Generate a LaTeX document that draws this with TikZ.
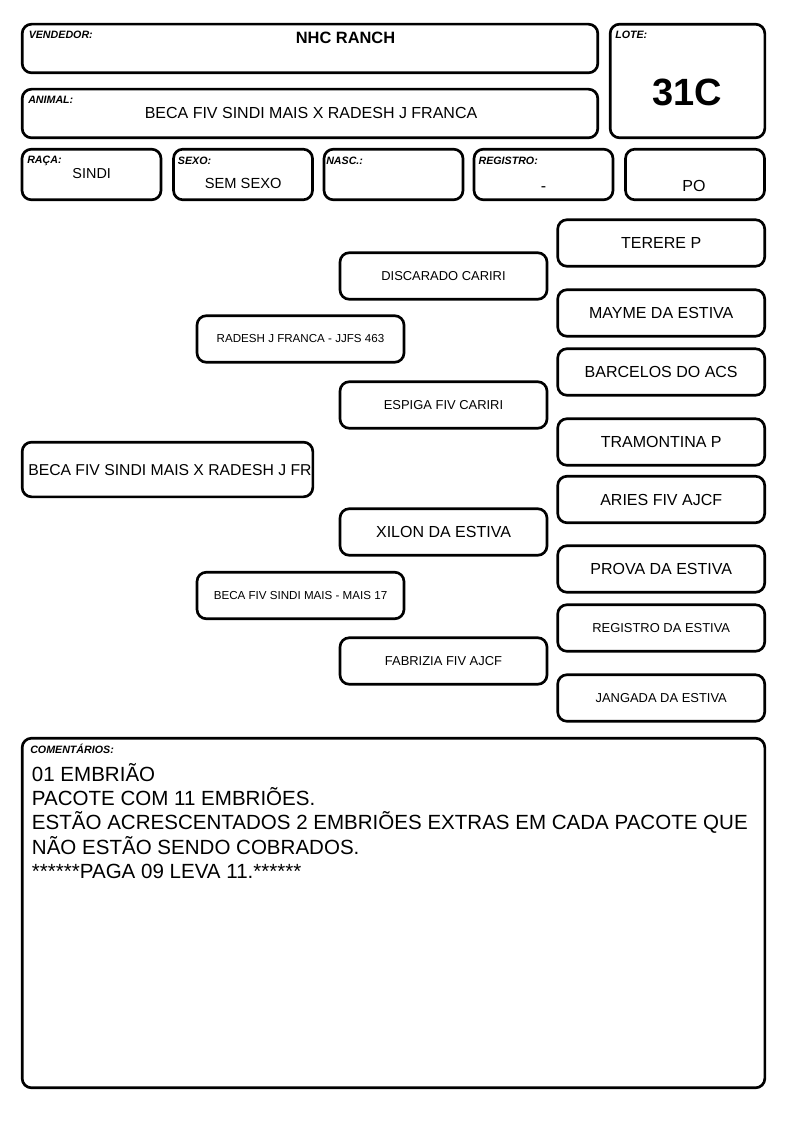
\documentclass[tikz,border=0pt]{standalone}
\usepackage{fontspec}
\setmainfont{Liberation Sans}
\begin{document}
\begin{tikzpicture}[x=0.75pt,y=-0.75pt,
  box/.style={draw=black, line width=2pt, rounded corners=7pt, inner sep=0pt, outer sep=0pt, align=center},
  ped/.style={box, minimum width=155.25pt, minimum height=34.9pt},
  rowbox/.style={box, minimum width=104.25pt, minimum height=37.95pt},
  lbl/.style={anchor=base west, inner sep=0pt, font=\fontsize{8}{9.5}\selectfont\bfseries\itshape},
  val/.style={anchor=base, inner sep=0pt, font=\fontsize{12}{14}\selectfont},
  fbig/.style={font=\fontsize{12}{14}\selectfont},
  fsmall/.style={font=\fontsize{9.7}{11}\selectfont},
  ftiny/.style={font=\fontsize{8.7}{10}\selectfont},
  cline/.style={anchor=base west, inner sep=0pt, font=\fontsize{15.4}{18}\selectfont}]
\useasboundingbox[fill=white] (0,0) rectangle (794,1123);

% header boxes
\node[box, minimum width=431.7pt, minimum height=36.5pt] (vend) at (310,48.5) {};
\node[box, minimum width=431.7pt, minimum height=36.5pt] (anim) at (310,113.5) {};
\node[box, minimum width=116pt, minimum height=85.2pt] (lote) at (687.5,81) {};
\node[rowbox] (raca) at (91.5,174.5) {};
\node[rowbox] (sexo) at (243,174.5) {};
\node[rowbox] (nasc) at (393.5,174.5) {};
\node[rowbox] (reg) at (543.5,174.5) {};
\node[rowbox] (po) at (695,174.5) {};

\node[lbl] (vendl) at (28.5,39) {VENDEDOR:};
\node[val, font=\fontsize{12.3}{14}\selectfont\bfseries] (vendv) at (345.5,43.5) {NHC RANCH};
\node[lbl] (animl) at (28,103.5) {ANIMAL:};
\node[val] (animv) at (311,119) {BECA FIV SINDI MAIS X RADESH J FRANCA};
\node[lbl] (lotel) at (615,38.5) {LOTE:};
\node[val, font=\fontsize{28.5}{32}\selectfont\bfseries] (lotev) at (687.3,105.7) {31C};
\node[lbl] (racal) at (27,163.5) {RAÇA:};
\node[val, font=\fontsize{10.8}{13}\selectfont] (racav) at (91.7,178.5) {SINDI};
\node[lbl] (sexol) at (177.7,165) {SEXO:};
\node[val, font=\fontsize{11}{13}\selectfont] (sexov) at (243.2,189) {SEM SEXO};
\node[lbl] (nascl) at (326,165) {NASC.:};
\node[lbl] (regl) at (478.3,165) {REGISTRO:};
\node[val] (regv) at (543.5,192) {-};
\node[val] (pov) at (694,192) {PO};

% pedigree: generation 3
\node[ped, fbig] (g3a) at (661.2,243) {TERERE P};
\node[ped, fbig] (g3b) at (661.2,313) {MAYME DA ESTIVA};
\node[ped, fbig] (g3c) at (661.2,372) {BARCELOS DO ACS};
\node[ped, fbig] (g3d) at (661.2,442) {TRAMONTINA P};
\node[ped, fbig] (g3e) at (661.2,499.5) {ARIES FIV AJCF};
\node[ped, fbig] (g3f) at (661.2,569) {PROVA DA ESTIVA};
\node[ped, fsmall] (g3g) at (661.2,628) {REGISTRO DA ESTIVA};
\node[ped, fsmall] (g3h) at (661.2,698) {JANGADA DA ESTIVA};
% generation 2
\node[ped, fsmall] (g2a) at (443.5,276) {DISCARADO CARIRI};
\node[ped, fsmall] (g2b) at (443.5,405) {ESPIGA FIV CARIRI};
\node[ped, fbig] (g2c) at (443.5,532) {XILON DA ESTIVA};
\node[ped, fsmall] (g2d) at (443.5,661) {FABRIZIA FIV AJCF};
% generation 1
\node[ped, ftiny] (g1a) at (300.5,339) {RADESH J FRANCA - JJFS 463};
\node[ped, ftiny] (g1b) at (300.5,595.5) {BECA FIV SINDI MAIS - MAIS 17};
% animal
\node[box, minimum width=218pt, minimum height=41pt] (g0) at (167.5,469.5) {};
\node[anchor=base west, inner sep=0pt, font=\fontsize{11.8}{14}\selectfont] (g0t) at (28,475.7) {BECA FIV SINDI MAIS X RADESH J FR};

% comments
\node[box, minimum width=557pt, minimum height=262.2pt] (com) at (393.5,913) {};
\node[lbl] (coml) at (30,753.5) {COMENTÁRIOS:};
\node[cline] (c1) at (31.7,781.5) {01 EMBRIÃO};
\node[cline] (c2) at (31.7,805.7) {PACOTE COM 11 EMBRIÕES.};
\node[cline] (c3) at (31.7,829.9) {ESTÃO ACRESCENTADOS 2 EMBRIÕES EXTRAS EM CADA PACOTE QUE};
\node[cline] (c4) at (31.7,854.1) {NÃO ESTÃO SENDO COBRADOS.};
\node[cline] (c5) at (31.7,878.3) {******PAGA 09 LEVA 11.******};
\end{tikzpicture}
\end{document}
